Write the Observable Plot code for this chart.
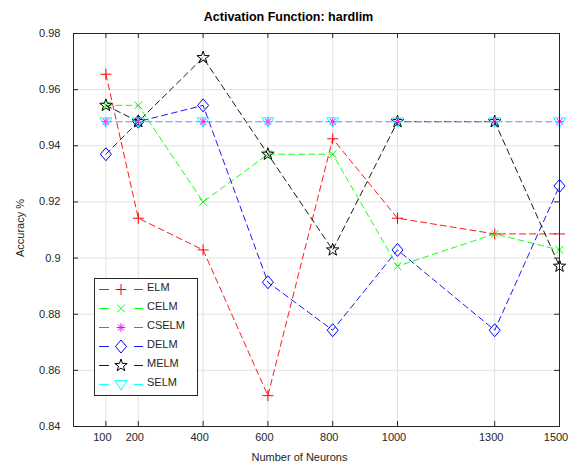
<!DOCTYPE html>
<html><head><meta charset="utf-8">
<script src="https://cdn.jsdelivr.net/npm/d3@7"></script>
<script src="https://cdn.jsdelivr.net/npm/@observablehq/plot@0.6"></script>
<style>
body{margin:0;background:#fff;font-family:"Liberation Sans",Arial,Helvetica,sans-serif;}
#wrap{position:relative;width:570px;height:468px;}
#legend{position:absolute;left:94px;top:278px;width:104px;height:118px;box-sizing:border-box;border:1px solid #262626;background:#fff;}
#legend svg{position:absolute;left:-1px;top:-1px;}
</style></head><body><div id="wrap"><div id="legend"></div></div>
<script>
// ---- data ----
const neurons = [100, 200, 400, 600, 800, 1000, 1300, 1500];
const xTicks = [100, 200, 400, 600, 800, 1000, 1300, 1500];
const yTicks = [0.84, 0.86, 0.88, 0.90, 0.92, 0.94, 0.96, 0.98];
const seriesNames = ["ELM", "CELM", "CSELM", "DELM", "MELM", "SELM"];
const elm   = [0.9655, 0.9142, 0.9029, 0.8510, 0.9425, 0.9142, 0.9086, 0.9086];
const celm  = [0.9544, 0.9544, 0.9200, 0.9370, 0.9370, 0.8971, 0.9086, 0.9029];
const cselm = [0.9486, 0.9486, 0.9486, 0.9486, 0.9486, 0.9486, 0.9486, 0.9486];
const delm  = [0.9370, 0.9486, 0.9544, 0.8914, 0.8743, 0.9029, 0.8743, 0.9257];
const melm  = [0.9544, 0.9486, 0.9714, 0.9370, 0.9029, 0.9486, 0.9486, 0.8971];
const selm  = [0.9486, 0.9486, 0.9486, 0.9486, 0.9486, 0.9486, 0.9486, 0.9486];
const seriesColors = ["#ff0000", "#00ff00", "#ff00ff", "#0000ff", "#000000", "#00ffff"];
const titleText = "Activation Function: hardlim";
const xLabel = "Number of Neurons";
const yLabel = "Accuracy %";

const seriesValues = [elm, celm, cselm, delm, melm, selm];

// ---- marker shapes (MATLAB-like) ----
const shapeDraw = {
  ELM: c => { const a = 5.5; c.moveTo(-a, 0); c.lineTo(a, 0); c.moveTo(0, -a); c.lineTo(0, a); },
  CELM: c => { const a = 3.8; c.moveTo(-a, -a); c.lineTo(a, a); c.moveTo(-a, a); c.lineTo(a, -a); },
  CSELM: c => { const a = 4.3, b = 3.1; c.moveTo(-a, 0); c.lineTo(a, 0); c.moveTo(0, -a); c.lineTo(0, a);
                c.moveTo(-b, -b); c.lineTo(b, b); c.moveTo(-b, b); c.lineTo(b, -b); },
  DELM: c => { c.moveTo(0, -6.5); c.lineTo(5.5, 0); c.lineTo(0, 6.5); c.lineTo(-5.5, 0); c.closePath(); },
  MELM: c => { const R = 6.5, r = 2.6;
    for (let i = 0; i < 10; i++) { const rr = i % 2 ? r : R; const ang = -Math.PI / 2 + i * Math.PI / 5;
      const px = rr * Math.cos(ang), py = rr * Math.sin(ang); if (i === 0) c.moveTo(px, py); else c.lineTo(px, py); }
    c.closePath(); },
  SELM: c => { c.moveTo(-6, -3.8); c.lineTo(6, -3.8); c.lineTo(0, 5.6); c.closePath(); }
};
const symbols = Object.fromEntries(seriesNames.map(n => [n, { draw(ctx) { shapeDraw[n](ctx); } }]));

// ---- rows ----
const rows = [];
seriesNames.forEach((name, i) => neurons.forEach((n, j) => rows.push({ series: name, x: n, y: seriesValues[i][j] })));

const fW = 570 - 73 - 11, fH = 468 - 33 - 42;
const axisColor = "#262626";

const seriesMarks = [];
seriesNames.forEach((name, i) => {
  const d = rows.filter(r => r.series === name);
  seriesMarks.push(Plot.line(d, { x: "x", y: "y", stroke: seriesColors[i], strokeWidth: 0.9, strokeDasharray: "6,4" }));
  seriesMarks.push(Plot.dot(d, { x: "x", y: "y", symbol: symbols[name], r: 6, stroke: seriesColors[i], fill: "none", strokeWidth: 1 }));
});

const chart = Plot.plot({
  width: 570, height: 468,
  marginLeft: 73, marginRight: 11, marginTop: 33, marginBottom: 42,
  x: { domain: [0, 1500] },
  y: { domain: [0.84, 0.98] },
  style: { fontFamily: "'Liberation Sans', Arial, Helvetica, sans-serif", fontSize: "11px", color: axisColor, background: "white", overflow: "visible" },
  marks: [
    Plot.ruleX(xTicks, { stroke: "#e2e2e2", strokeWidth: 1 }),
    Plot.ruleY(yTicks, { stroke: "#e2e2e2", strokeWidth: 1 }),
    ...seriesMarks,
    Plot.frame({ stroke: axisColor, strokeWidth: 1 }),
    Plot.ruleX(xTicks, { stroke: axisColor, insetTop: fH - 5 }),
    Plot.ruleX(xTicks, { stroke: axisColor, insetBottom: fH - 5 }),
    Plot.ruleY(yTicks, { stroke: axisColor, insetRight: fW - 5 }),
    Plot.ruleY(yTicks, { stroke: axisColor, insetLeft: fW - 5 }),
    Plot.axisX(xTicks, { tickSize: 0, tickPadding: 7, dx: -3.5, label: null, fontSize: 11, tickFormat: d => String(d) }),
    Plot.axisY(yTicks, { tickSize: 0, tickPadding: 13, label: null, fontSize: 11, tickFormat: d => String(+d.toFixed(2)) }),
    Plot.text([titleText], { frameAnchor: "top", dx: -28, dy: -21, fontWeight: "bold", fontSize: 12.5, fill: "black" }),
    Plot.text([xLabel], { frameAnchor: "bottom", dx: -17, dy: 34, fontSize: 11, fill: axisColor }),
    Plot.text([yLabel], { frameAnchor: "left", textAnchor: "middle", rotate: -90, dx: -53, dy: -2, fontSize: 11, fill: axisColor })
  ]
});
document.getElementById("wrap").prepend(chart);

// ---- legend ----
const lg = d3.select("#legend").append("svg").attr("width", 104).attr("height", 118);
seriesNames.forEach((name, i) => {
  const cy = 11.5 + 19 * i;
  const g = lg.append("g");
  g.append("line").attr("x1", 5).attr("x2", 49).attr("y1", cy).attr("y2", cy)
    .attr("stroke", seriesColors[i]).attr("stroke-width", 0.9).attr("stroke-dasharray", "10,25");
  const p = d3.path(); shapeDraw[name](p);
  g.append("path").attr("d", p.toString()).attr("transform", `translate(27,${cy})`)
    .attr("fill", "none").attr("stroke", seriesColors[i]).attr("stroke-width", 1);
  g.append("text").attr("x", 53).attr("y", cy - 1.5).attr("dominant-baseline", "middle")
    .attr("font-size", 11).attr("fill", axisColor).attr("font-family", "'Liberation Sans', Arial, sans-serif").text(name);
});
</script>
</body></html>
